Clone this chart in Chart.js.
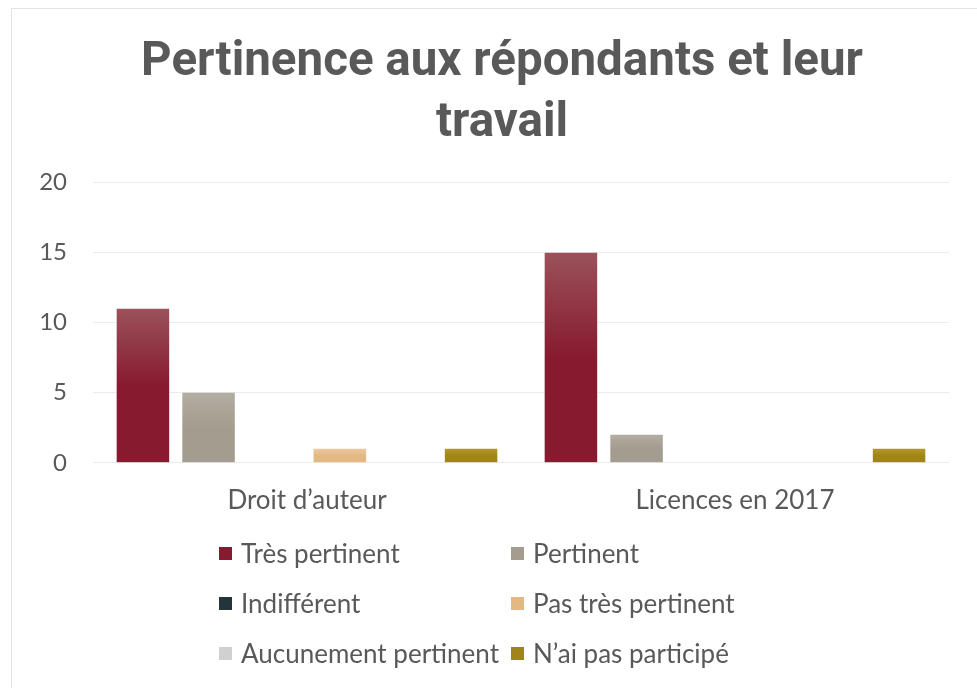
<!DOCTYPE html>
<html>
<head>
<meta charset="utf-8">
<script src="https://cdn.jsdelivr.net/npm/chart.js@4"></script>
<style>
  html, body { margin: 0; padding: 0; background: #fff; overflow: hidden; }
  #frame {
    position: absolute; left: 11px; top: 8px; width: 996px; height: 690px;
    border-left: 1px solid #e3e3e3; border-top: 1px solid #e3e3e3;
  }
  #wrap { position: absolute; left: 0; top: 0; width: 996px; height: 680px; }
  #legend {
    position: absolute; left: 207px; top: 527px;
    display: grid; grid-template-columns: 292px 260px; row-gap: 16px;
    font-family: Lato, "Open Sans", sans-serif; font-size: 26px; color: #595959;
  }
  #legend div { display: flex; align-items: center; height: 34px; white-space: nowrap; }
  #legend span.box { display: inline-block; width: 13px; height: 13px; margin-right: 9px; }
</style>
</head>
<body>
<div id="frame">
  <div id="wrap"><canvas id="chart"></canvas></div>
  <div id="legend"></div>
</div>
<script>
var categories = ['Droit d\u2019auteur', 'Licences en 2017'];
var seriesNames = ['Très pertinent', 'Pertinent', 'Indifférent', 'Pas très pertinent', 'Aucunement pertinent', 'N\u2019ai pas participé'];
var tresPertinent = [11, 15];
var pertinent = [5, 2];
var indifferent = [0, 0];
var pasTresPertinent = [1, 0];
var aucunementPertinent = [0, 0];
var naiPasParticipe = [1, 1];
var yTicks = [0, 5, 10, 15, 20];

// top / bottom colours of each series gradient
var colors = [
    ['#9a525b', '#871a2e'],
    ['#b3ada2', '#a39d8f'],
    ['#3a4a50', '#23343a'],
    ['#edc9a0', '#e4b883'],
    ['#e0e0e0', '#d0d0d0'],
    ['#b39a2a', '#a08418']
];
var values = [tresPertinent, pertinent, indifferent, pasTresPertinent, aucunementPertinent, naiPasParticipe];

function barFill(idx) {
    return function (context) {
        var chart = context.chart;
        if (!chart.chartArea || context.type !== 'data') return colors[idx][1];
        var y = chart.scales.y;
        var top = y.getPixelForValue(context.raw);
        var base = y.getPixelForValue(0);
        if (base - top < 1) return colors[idx][1];
        var g = chart.ctx.createLinearGradient(0, top, 0, base);
        g.addColorStop(0, colors[idx][0]);
        g.addColorStop(0.5, colors[idx][1]);
        g.addColorStop(1, colors[idx][1]);
        return g;
    };
}

var datasets = [];
for (var i = 0; i < seriesNames.length; i++) {
    datasets.push({
        label: seriesNames[i],
        data: values[i],
        backgroundColor: barFill(i),
        categoryPercentage: 0.92,
        barPercentage: 0.8
    });
}

var legend = document.getElementById('legend');
for (var i = 0; i < seriesNames.length; i++) {
    var item = document.createElement('div');
    item.innerHTML = '<span class="box" style="background:' + colors[i][1] + '"></span>' + seriesNames[i];
    legend.appendChild(item);
}

Chart.defaults.font.family = 'Lato, "Open Sans", sans-serif';
Chart.defaults.color = '#595959';

// title in the original is centred on the whole frame, not on the padded box
var titleShift = {
    id: 'titleShift',
    afterLayout: function (chart) {
        chart.titleBlock.left += 8;
        chart.titleBlock.right += 8;
    }
};

new Chart(document.getElementById('chart'), {
    type: 'bar',
    data: { labels: categories, datasets: datasets },
    plugins: [titleShift],
    options: {
        responsive: true,
        maintainAspectRatio: false,
        animation: false,
        layout: { padding: { left: 27, right: 59, top: 24, bottom: 159 } },
        plugins: {
            legend: { display: false },
            tooltip: { enabled: false },
            title: {
                display: true,
                text: ['Pertinence aux répondants et leur', 'travail'],
                color: '#595959',
                font: { family: 'Roboto, sans-serif', size: 47.5, weight: 'bold', lineHeight: 1.28 },
                padding: { top: 0, bottom: 28 }
            }
        },
        scales: {
            x: {
                grid: { display: false },
                border: { display: false },
                ticks: { font: { size: 26 }, padding: 14 }
            },
            y: {
                min: 0,
                max: 20,
                afterBuildTicks: function (axis) {
                    axis.ticks = yTicks.map(function (v) { return { value: v }; });
                },
                afterFit: function (axis) { axis.width = 54; },
                grid: { color: '#ebebeb', drawTicks: false },
                border: { display: false },
                ticks: { font: { size: 24 }, padding: 26 }
            }
        }
    }
});
</script>
</body>
</html>
